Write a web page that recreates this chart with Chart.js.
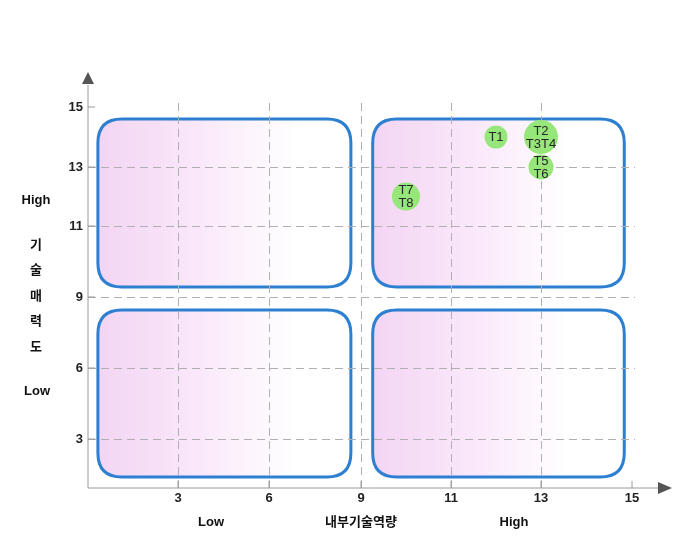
<!DOCTYPE html>
<html>
<head>
<meta charset="utf-8">
<script src="https://cdn.jsdelivr.net/npm/chart.js@4/dist/chart.umd.min.js"></script>
<style>
  html, body { margin: 0; padding: 0; background: #fff; }
  #wrap { width: 700px; height: 560px; }
</style>
</head>
<body>
<div id="wrap"><canvas id="matrix" width="700" height="560"></canvas></div>
<script>
// tick values on both axes (the spacing between them is not proportional)
const xTicks = [3, 6, 9, 11, 13, 15];
const yTicks = [3, 6, 9, 11, 13, 15];

// technologies
const pointLabels = [['T1'], ['T2', 'T3T4'], ['T5', 'T6'], ['T7', 'T8']];
const pointX = [12, 13, 13, 10];
const pointY = [14, 14, 13, 12];
const pointR = [11.5, 17, 12.5, 14];

// quadrant boxes in data units
const quadXFrom = [0.33, 9.26, 0.33, 9.26];
const quadXTo = [8.67, 14.83, 8.67, 14.83];
const quadYFrom = [9.28, 9.28, 0.67, 0.67];
const quadYTo = [14.6, 14.6, 8.45, 8.45];

const FONT = "'Liberation Sans', Arial, 'Noto Sans CJK KR', sans-serif";

// linear scale whose segments between knots get their own length
class SegmentScale extends Chart.LinearScale {
  static id = 'segment';
  toDecimal(v) {
    const k = this.options.knots, w = this.options.spans;
    const total = w.reduce((a, b) => a + b, 0);
    let acc = 0;
    for (let i = 0; i < k.length - 1; i++) {
      if (v <= k[i + 1] || i === k.length - 2) {
        return (acc + (v - k[i]) / (k[i + 1] - k[i]) * w[i]) / total;
      }
      acc += w[i];
    }
    return 0;
  }
  getPixelForValue(value) {
    return this.getPixelForDecimal(this.toDecimal(value));
  }
  getValueForPixel(pixel) {
    const d = this.getDecimalForPixel(pixel);
    const k = this.options.knots, w = this.options.spans;
    const total = w.reduce((a, b) => a + b, 0);
    let acc = 0;
    for (let i = 0; i < k.length - 1; i++) {
      const next = acc + w[i] / total;
      if (d <= next) return k[i] + (d - acc) / (w[i] / total) * (k[i + 1] - k[i]);
      acc = next;
    }
    return k[k.length - 1];
  }
}
Chart.register(SegmentScale);

function roundRect(ctx, x, y, w, h, r) {
  ctx.beginPath();
  ctx.moveTo(x + r, y);
  ctx.lineTo(x + w - r, y);
  ctx.quadraticCurveTo(x + w, y, x + w, y + r);
  ctx.lineTo(x + w, y + h - r);
  ctx.quadraticCurveTo(x + w, y + h, x + w - r, y + h);
  ctx.lineTo(x + r, y + h);
  ctx.quadraticCurveTo(x, y + h, x, y + h - r);
  ctx.lineTo(x, y + r);
  ctx.quadraticCurveTo(x, y, x + r, y);
  ctx.closePath();
}

const quadrantPlugin = {
  id: 'quadrants',
  beforeDraw(chart) {
    const { ctx, scales: { x, y } } = chart;
    ctx.save();
    for (let i = 0; i < quadXFrom.length; i++) {
      const x0 = x.getPixelForValue(quadXFrom[i]);
      const x1 = x.getPixelForValue(quadXTo[i]);
      const y0 = y.getPixelForValue(quadYTo[i]);
      const y1 = y.getPixelForValue(quadYFrom[i]);
      const g = ctx.createLinearGradient(x0, 0, x1, 0);
      g.addColorStop(0, '#f3d5f3');
      g.addColorStop(0.4, '#fae8fa');
      g.addColorStop(0.78, '#ffffff');
      g.addColorStop(1, '#ffffff');
      roundRect(ctx, x0, y0, x1 - x0, y1 - y0, 24);
      ctx.fillStyle = g;
      ctx.fill();
      ctx.lineWidth = 3;
      ctx.strokeStyle = '#2d7fd2';
      ctx.stroke();
    }
    ctx.restore();
  },
  afterDraw(chart) {
    const { ctx, chartArea: a, scales: { x, y } } = chart;
    ctx.save();
    // axes with arrows
    ctx.strokeStyle = '#9a9a9a';
    ctx.lineWidth = 1;
    ctx.beginPath();
    ctx.moveTo(a.left, a.bottom);
    ctx.lineTo(a.right + 24, a.bottom);
    ctx.moveTo(a.left, a.bottom);
    ctx.lineTo(a.left, a.top - 18);
    ctx.stroke();
    ctx.fillStyle = '#555';
    ctx.beginPath();
    ctx.moveTo(a.right + 23, a.bottom - 6);
    ctx.lineTo(a.right + 37, a.bottom);
    ctx.lineTo(a.right + 23, a.bottom + 6);
    ctx.closePath();
    ctx.fill();
    ctx.beginPath();
    ctx.moveTo(a.left - 6, a.top - 19);
    ctx.lineTo(a.left, a.top - 31);
    ctx.lineTo(a.left + 6, a.top - 19);
    ctx.closePath();
    ctx.fill();
    // inward tick marks
    ctx.beginPath();
    xTicks.forEach(v => {
      const px = x.getPixelForValue(v);
      ctx.moveTo(px, a.bottom);
      ctx.lineTo(px, a.bottom - 7);
    });
    yTicks.forEach(v => {
      const py = y.getPixelForValue(v);
      ctx.moveTo(a.left, py);
      ctx.lineTo(a.left + 7, py);
    });
    ctx.stroke();

    // axis captions
    ctx.fillStyle = '#111';
    ctx.font = 'bold 13px ' + FONT;
    ctx.textAlign = 'center';
    ctx.textBaseline = 'middle';
    ctx.fillText('High', 36, 200);
    ['기', '술', '매', '력', '도'].forEach((c, i) => ctx.fillText(c, 36, 245 + i * 25.5));
    ctx.fillText('Low', 37, 391);
    ctx.fillText('Low', 211, 522);
    ctx.fillText('내부기술역량', 361, 522);
    ctx.fillText('High', 514, 522);

    // bubble labels
    const meta = chart.getDatasetMeta(0);
    ctx.fillStyle = '#262626';
    ctx.font = '13px ' + FONT;
    meta.data.forEach((el, i) => {
      const lines = pointLabels[i];
      lines.forEach((t, j) => {
        ctx.fillText(t, el.x, el.y + 0.5 + (j - (lines.length - 1) / 2) * 13);
      });
    });
    ctx.restore();
  }
};

const gridColor = ctx => (ctx.tick && ctx.tick.value === 15) ? 'rgba(0,0,0,0)' : '#b0b0b0';

new Chart(document.getElementById('matrix'), {
  type: 'bubble',
  data: {
    datasets: [{
      data: pointX.map((v, i) => ({ x: v, y: pointY[i], r: pointR[i] })),
      backgroundColor: '#96e67a',
      borderColor: '#96e67a',
      borderWidth: 0,
      hoverRadius: 0
    }]
  },
  options: {
    responsive: false,
    animation: false,
    events: [],
    layout: { padding: { left: 0, right: 65, top: 103, bottom: 52 } },
    plugins: { legend: { display: false }, tooltip: { enabled: false } },
    scales: {
      x: {
        type: 'segment',
        min: 0,
        max: 15.05,
        knots: [0, 3, 6, 9, 11, 13, 15, 15.05],
        spans: [90, 91, 92, 90, 90, 91, 3],
        afterBuildTicks: s => { s.ticks = xTicks.map(v => ({ value: v })); },
        afterFit: s => { s.height = 20; },
        border: { display: false, dash: [8, 5] },
        grid: { color: gridColor, drawTicks: false, lineWidth: 1 },
        ticks: {
          padding: 3,
          color: '#222',
          font: { family: FONT, size: 13, weight: 'bold' },
          callback: v => v
        }
      },
      y: {
        type: 'segment',
        min: 0,
        max: 15.13,
        knots: [0, 3, 6, 9, 11, 13, 15, 15.13],
        spans: [49, 71, 71, 71, 59, 60, 4],
        afterBuildTicks: s => { s.ticks = yTicks.map(v => ({ value: v })); },
        afterFit: s => { s.width = 88; },
        border: { display: false, dash: [8, 5] },
        grid: { color: gridColor, drawTicks: false, lineWidth: 1 },
        ticks: {
          padding: 5,
          color: '#222',
          font: { family: FONT, size: 13, weight: 'bold' },
          callback: v => v
        }
      }
    }
  },
  plugins: [quadrantPlugin]
});
</script>
</body>
</html>
